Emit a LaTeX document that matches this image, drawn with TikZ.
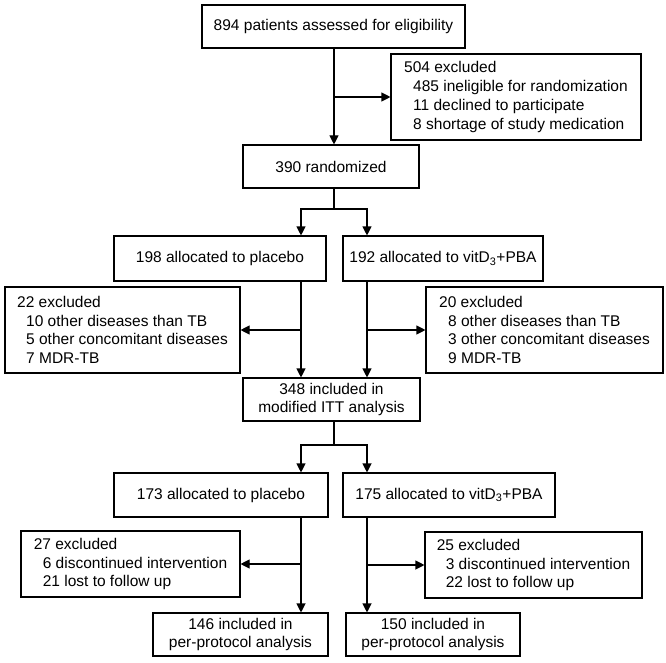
\documentclass[tikz,border=0pt]{standalone}
\usepackage{fontspec}
\setmainfont{Liberation Sans}
\usepackage{tikz}
\usetikzlibrary{arrows.meta}

\tikzset{
  flowbox/.style={draw, line width=1.1pt, inner sep=0pt, align=center, font=\fontsize{15.5}{18.7}\selectfont},
  exclbox/.style={flowbox, align=left},
  flowline/.style={line width=1.1pt},
  flowarrow/.style={line width=1.1pt, -{Triangle[length=9pt,width=9pt]}}
}
\newcommand{\ind}{\hspace*{9pt}}

\begin{document}
\begin{tikzpicture}[x=1pt,y=1pt,yscale=-1,xscale=1]
\useasboundingbox (0,0) rectangle (666,663);

% lanes
\coordinate (trunk) at (334,0);
\coordinate (laneL) at (301,0);
\coordinate (laneR) at (367,0);
\coordinate (split1) at (334,209);
\coordinate (split2) at (334,445);

%Shape: Rectangle, enrolment
\node [flowbox, minimum width=263pt, minimum height=43pt] (elig) at (333.5,26.5) {894 patients assessed for eligibility};
\node [exclbox, minimum width=250pt, minimum height=86pt] (excl) at (516,97)
  {504 excluded\\\ind 485 ineligible for randomization\\\ind 11 declined to participate\\\ind 8 shortage of study medication};
\node [flowbox, minimum width=176pt, minimum height=43pt] (rand) at (331,166.5) {390 randomized};

%Shape: Rectangle, allocation
\node [flowbox, minimum width=212pt, minimum height=45pt] (plcA) at (220,258.5) {198 allocated to placebo};
\node [flowbox, minimum width=200pt, minimum height=45pt] (vitA) at (443,258.5) {192 allocated to vitD\textsubscript{3}+PBA};
\node [exclbox, minimum width=235pt, minimum height=86pt] (exclLA) at (122.5,330)
  {22 excluded\\\ind 10 other diseases than TB\\\ind 5 other concomitant diseases\\\ind 7 MDR-TB};
\node [exclbox, minimum width=237pt, minimum height=86pt] (exclRA) at (544.5,330)
  {20 excluded\\\ind 8 other diseases than TB\\\ind 3 other concomitant diseases\\\ind 9 MDR-TB};
\node [flowbox, minimum width=177pt, minimum height=43pt] (itt) at (331.5,399.5) {348 included in\\modified ITT analysis};

%Shape: Rectangle, follow up
\node [flowbox, minimum width=214pt, minimum height=44pt] (plcB) at (221,495) {173 allocated to placebo};
\node [flowbox, minimum width=212pt, minimum height=44pt] (vitB) at (449,495) {175 allocated to vitD\textsubscript{3}+PBA};
\node [exclbox, minimum width=219pt, minimum height=66pt] (exclLB) at (130.5,564)
  {27 excluded\\\ind 6 discontinued intervention\\\ind 21 lost to follow up};
\node [exclbox, minimum width=217pt, minimum height=66pt] (exclRB) at (533.5,565)
  {25 excluded\\\ind 3 discontinued intervention\\\ind 22 lost to follow up};
\node [flowbox, minimum width=175pt, minimum height=43pt] (ppL) at (240.5,634.5) {146 included in\\per-protocol analysis};
\node [flowbox, minimum width=174pt, minimum height=43pt] (ppR) at (433,634.5) {150 included in\\per-protocol analysis};

%Straight Lines
\draw [flowarrow] (trunk |- elig.south) -- (trunk |- rand.north);
\draw [flowarrow] (trunk |- excl.west) -- (excl.west);

\draw [flowline] (trunk |- rand.south) -- (split1);
\draw [flowarrow] (split1) -| (laneL |- plcA.north);
\draw [flowarrow] (split1) -| (laneR |- vitA.north);
\draw [flowarrow] (laneL |- plcA.south) -- (laneL |- itt.north);
\draw [flowarrow] (laneR |- vitA.south) -- (laneR |- itt.north);
\draw [flowarrow] (laneL |- exclLA.east) -- (exclLA.east);
\draw [flowarrow] (laneR |- exclRA.west) -- (exclRA.west);

\draw [flowline] (trunk |- itt.south) -- (split2);
\draw [flowarrow] (split2) -| (laneL |- plcB.north);
\draw [flowarrow] (split2) -| (laneR |- vitB.north);
\draw [flowarrow] (laneL |- plcB.south) -- (laneL |- ppL.north);
\draw [flowarrow] (laneR |- vitB.south) -- (laneR |- ppR.north);
\draw [flowarrow] (laneL |- exclLB.east) -- (exclLB.east);
\draw [flowarrow] (laneR |- exclRB.west) -- (exclRB.west);

\end{tikzpicture}
\end{document}
